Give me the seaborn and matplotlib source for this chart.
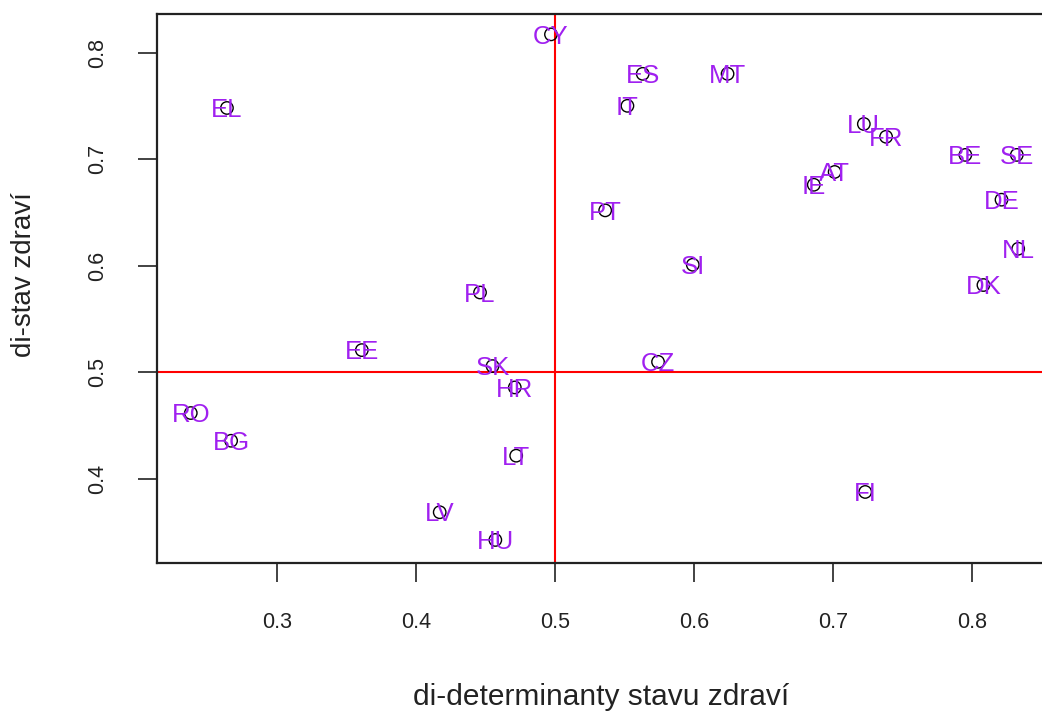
import matplotlib
matplotlib.use("Agg")
import matplotlib.pyplot as plt
import seaborn as sns
import pandas as pd

# Country codes and their two composite indices
countries = ["CY", "EL", "ES", "MT", "IT", "LU", "FR", "BE", "SE", "AT",
             "IE", "PT", "DE", "NL", "SI", "DK", "PL", "EE", "SK", "CZ",
             "HR", "RO", "BG", "LT", "FI", "LV", "HU"]
determinanty = [0.497, 0.264, 0.563, 0.624, 0.552, 0.722, 0.738, 0.795, 0.832, 0.701,
                0.686, 0.536, 0.821, 0.833, 0.599, 0.808, 0.446, 0.361, 0.455, 0.574,
                0.471, 0.238, 0.267, 0.472, 0.723, 0.417, 0.457]
stav = [0.817, 0.748, 0.780, 0.780, 0.750, 0.733, 0.721, 0.704, 0.704, 0.688,
        0.676, 0.652, 0.662, 0.616, 0.601, 0.582, 0.575, 0.521, 0.506, 0.510,
        0.486, 0.462, 0.436, 0.422, 0.388, 0.369, 0.343]

x_ticks = [0.3, 0.4, 0.5, 0.6, 0.7, 0.8]
y_ticks = [0.4, 0.5, 0.6, 0.7, 0.8]

df = pd.DataFrame({"country": countries, "det": determinanty, "stav": stav})

sns.set_style("white")
plt.rcParams["font.family"] = ["Liberation Sans", "DejaVu Sans"]

fig = plt.figure(figsize=(10.42, 7.15), dpi=100)
ax = fig.add_axes([157 / 1042, 1 - 563 / 715, (1046 - 157) / 1042, (563 - 14) / 715])

# quadrant divisions
ax.axvline(0.5, color="red", lw=1.5, zorder=1)
ax.axhline(0.5, color="red", lw=1.5, zorder=1)

sns.scatterplot(data=df, x="det", y="stav", ax=ax, marker="o", s=80,
                facecolor="none", edgecolor="black", linewidth=1.0, zorder=3)

for c, xv, yv in zip(df["country"], df["det"], df["stav"]):
    ax.text(xv, yv - 0.002, c, color="#A020F0", fontsize=18.5,
            ha="center", va="center", zorder=4)

ax.set_xlim(0.2137, 0.853)
ax.set_ylim(0.3214, 0.8361)
ax.set_xticks(x_ticks)
ax.set_xticklabels([f"{t:.1f}" for t in x_ticks])
ax.set_yticks(y_ticks)
ax.set_yticklabels([f"{t:.1f}" for t in y_ticks], rotation=90, va="center")

ax.tick_params(axis="both", which="both", direction="out", length=13.5, width=1.2,
               color="#222222", labelsize=15.5, labelcolor="#222222", pad=22,
               bottom=True, left=True)

for side, sp in ax.spines.items():
    sp.set_color("#222222")
    sp.set_linewidth(1.6)

ax.set_xlabel("di-determinanty stavu zdraví", fontsize=21.5, color="#222222", labelpad=36)
ax.set_ylabel("di-stav zdraví", fontsize=20, color="#222222")
ax.yaxis.set_label_coords(-0.135, 0.525)

fig.savefig("out.png", dpi=100, facecolor="white")
